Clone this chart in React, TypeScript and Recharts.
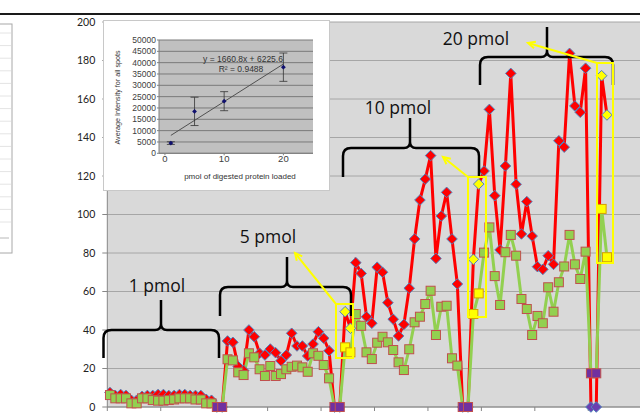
import React from 'react';
import { ComposedChart, Line, XAxis, YAxis, CartesianGrid, Scatter, ErrorBar } from 'recharts';

// ---- main chart data (one value per spot / category index) ----
const redSeries = [
  7.5, 6, 6.5, 6, 3.5, 3.5, 5.5, 6, 6, 6.5, 6.5, 6, 6, 6.5, 6.5, 6, 6, 6, 4, 3.5, 0, 0,
  34.3, 33.6, 21, 19, 40, 36.5, 27.9, 27, 30.1, 28.2, 24, 27, 38.3, 31.7, 31.7, 26.5, 32.7, 39.1, 35.7, 29.2, 0, 0,
  49.5, 40.9, 75, 69.4, 46.9, 43.5, 72.6, 70, 54.2, 45.6, 36.9, 42.9, 61.7, 87.3, 107.5, 118.4, 130.6, 77.2, 99.2, 111.5, 87.3, 63.9, 0, 0,
  76.7, 115.8, 122.6, 154.6, 109.8, 81.6, 125.2, 173.3, 115.7, 89.9, 106.7, 88.8, 72.9, 71.5, 78.6, 74.1, 138.3, 135, 183.7, 156.4, 153.1, 176, 0, 0,
  172.1, 151.7,
];
const greenSeries = [
  6.2, 4.5, 4.5, 4.5, 1.9, 1.9, 4.5, 4.5, 3.6, 3.3, 3.3, 3.6, 3.9, 4.5, 4.5, 4.5, 3.9, 3.9, 1.9, 1.9, 0, 0,
  24.8, 24.2, 18, 16.6, 27.9, 25.8, 19.6, 16.1, 21.3, 16.1, 17.1, 19.6, 20.9, 21.5, 20.6, 18.3, 27.9, 26.6, 21.8, 14.9, 0, 0,
  31, 28.4, 48.3, 42.2, 28.4, 24.9, 33.4, 36.5, 33.6, 29.6, 23.2, 19.2, 30, 44, 46.9, 53.5, 60.4, 37.4, 52.1, 52.6, 25.3, 21.5, 0, 0,
  48.3, 59, 80.2, 93.3, 68, 53, 80.4, 89.4, 78.6, 56.1, 50.9, 37.4, 47.3, 43.5, 62.2, 49.5, 64.8, 73, 89.4, 74.1, 66.5, 80.7, 17.5, 17.5,
  102.9, 77.8,
];
const categoryCount = 100;
const yellowPoints = [44, 45, 68, 69, 92, 93];
const missingPoints = [20, 21, 42, 43, 66, 67, 90, 91];
const yTicks = [0, 20, 40, 60, 80, 100, 120, 140, 160, 180, 200];
const xTickBounds = [-0.5, 9.5, 19.5, 29.5, 39.5, 49.5, 59.5, 69.5, 79.5, 89.5, 99.5];
const groupLabels = ['1 pmol', '5 pmol', '10 pmol', '20 pmol'];

// ---- inset data ----
const insetPmol = [1, 5, 10, 20];
const insetIntensity = [4500, 18500, 23000, 38000];
const insetError = [600, 6250, 4200, 6250];
const trendPmol = [1, 20];
const trendIntensity = [7900, 39400];
const insetYTicks = [0, 5000, 10000, 15000, 20000, 25000, 30000, 35000, 40000, 45000, 50000];
const insetXTicks = [0, 10, 20];

const mainData = Array.from({ length: categoryCount }, (_, i) => ({
  x: i,
  red: i < redSeries.length ? redSeries[i] : null,
  green: i < greenSeries.length ? greenSeries[i] : null,
}));
const insetPoints = insetPmol.map((x, i) => ({ x, y: insetIntensity[i], err: insetError[i] }));
const trendPoints = trendPmol.map((x, i) => ({ x, y: trendIntensity[i] }));

const RedDot = (props: any) => {
  const { cx, cy, index } = props;
  if (cx == null || cy == null || Number.isNaN(cy)) return <g key={`rd-${index}`} />;
  const fill = yellowPoints.includes(index) ? '#ffff00' : missingPoints.includes(index) ? '#6a3fb0' : '#ff0000';
  const h = 5.3;
  return (
    <polygon key={`rd-${index}`} points={`${cx},${cy - h} ${cx + h},${cy} ${cx},${cy + h} ${cx - h},${cy}`}
      fill={fill} stroke="#4f81bd" strokeWidth={1} />
  );
};

const GreenDot = (props: any) => {
  const { cx, cy, index } = props;
  if (cx == null || cy == null || Number.isNaN(cy)) return <g key={`gd-${index}`} />;
  const isY = yellowPoints.includes(index);
  const fill = isY ? '#ffff00' : missingPoints.includes(index) ? '#7030a0' : '#92d050';
  const s = 4.5;
  return (
    <rect key={`gd-${index}`} x={cx - s} y={cy - s} width={2 * s} height={2 * s}
      fill={fill} stroke={isY ? '#d4a000' : '#c0504d'} strokeWidth={1} />
  );
};

const InsetDiamond = (props: any) => {
  const { cx, cy } = props;
  const h = 2.4;
  return <polygon points={`${cx},${cy - h} ${cx + h},${cy} ${cx},${cy + h} ${cx - h},${cy}`} fill="#10106e" />;
};

const bracePath = (x1: number, x2: number, xc: number, yt: number, yb: number, ys: number) => {
  const r = 8;
  const r2 = 6;
  return `M ${x1} ${yb} L ${x1} ${yt + r} Q ${x1} ${yt} ${x1 + r} ${yt} L ${xc - r2} ${yt} Q ${xc} ${yt} ${xc} ${yt - r2} L ${xc} ${ys} ` +
    `M ${xc} ${yt - r2} Q ${xc} ${yt} ${xc + r2} ${yt} L ${x2 - r} ${yt} Q ${x2} ${yt} ${x2} ${yt + r} L ${x2} ${yb}`;
};

const Arrow = ({ x0, y0, x1, y1 }: { x0: number; y0: number; x1: number; y1: number }) => {
  const a = Math.atan2(y0 - y1, x0 - x1);
  const L = 8;
  const d1 = a + 0.45;
  const d2 = a - 0.45;
  return (
    <g stroke="#ffff00" strokeWidth={2} fill="none">
      <line x1={x0} y1={y0} x2={x1} y2={y1} />
      <polyline points={`${x1 + L * Math.cos(d1)},${y1 + L * Math.sin(d1)} ${x1},${y1} ${x1 + L * Math.cos(d2)},${y1 + L * Math.sin(d2)}`} />
    </g>
  );
};

const braces = [
  { label: groupLabels[0], x1: 103.5, x2: 219, xc: 161, yt: 330, yb: 358, ys: 300, tx: 157, ty: 292 },
  { label: groupLabels[1], x1: 220, x2: 351, xc: 287, yt: 287, yb: 316, ys: 257, tx: 268, ty: 243 },
  { label: groupLabels[2], x1: 343, x2: 479, xc: 410, yt: 148, yb: 177, ys: 118, tx: 398, ty: 114 },
  { label: groupLabels[3], x1: 480, x2: 613, xc: 547, yt: 57, yb: 85, ys: 27, tx: 476, ty: 45 },
];

export default function App() {
  return (
    <div style={{ position: 'absolute', left: 0, top: 0, width: 640, height: 418, overflow: 'hidden', background: '#fff' }}>
      <svg width={640} height={418} style={{ position: 'absolute', left: 0, top: 0 }}>
        <rect x={-1} y={24} width={13} height={229} fill="#fff" stroke="#a8a8a8" strokeWidth={1} />
        {Array.from({ length: 16 }, (_, k) => (
          <line key={k} x1={0} x2={11} y1={33 + k * 12.6} y2={33 + k * 12.6} stroke="#e4e4e4" strokeWidth={1} />
        ))}
        <line x1={0} x2={9} y1={238} y2={238} stroke="#b8b8b8" strokeWidth={1} />
      </svg>
      <div style={{ position: 'absolute', left: 0, top: 0 }}>
        <ComposedChart width={660} height={418} data={mainData} margin={{ top: 22, right: 18.3, bottom: 0, left: 0 }}>
          <CartesianGrid vertical={false} stroke="#a6a6a6" fill="#d9d9d9" />
          <XAxis type="number" dataKey="x" domain={[-0.5, 99.5]} ticks={xTickBounds} interval={0}
            tickFormatter={() => ''} tickSize={4} height={11} stroke="#868686" />
          <YAxis type="number" domain={[0, 200]} ticks={yTicks} interval={0} width={107.3} tickSize={5} tickMargin={7}
            stroke="#868686" tick={{ fontSize: 10.5, fill: '#222', fontFamily: 'Lato' }} />
          <Line type="linear" dataKey="red" stroke="#ff0000" strokeWidth={3} dot={RedDot} activeDot={false}
            isAnimationActive={false} />
          <Line type="linear" dataKey="green" stroke="#92d050" strokeWidth={3} dot={GreenDot} activeDot={false}
            isAnimationActive={false} />
        </ComposedChart>
      </div>
      <div style={{ position: 'absolute', left: 103, top: 20, width: 227, height: 171, background: '#fff' }}>
        <ComposedChart width={227} height={171} margin={{ top: 20, right: 17, bottom: 0, left: 0 }}>
          <CartesianGrid vertical={false} stroke="#7a7a7a" fill="#c0c0c0" />
          <XAxis type="number" dataKey="x" domain={[-1, 25]} ticks={insetXTicks} interval={0} tickSize={2} tickMargin={0}
            height={37.7} stroke="#808080" tick={{ fontSize: 9.5, fill: '#404040', fontFamily: 'Liberation Sans' }} />
          <YAxis type="number" dataKey="y" domain={[0, 50000]} ticks={insetYTicks} interval={0} width={56} tickSize={2}
            tickMargin={1} stroke="#808080" tick={{ fontSize: 8.5, fill: '#404040', fontFamily: 'Liberation Sans' }} />
          <Line data={trendPoints} type="linear" dataKey="y" stroke="#505050" strokeWidth={1} dot={false}
            activeDot={false} isAnimationActive={false} />
          <Scatter data={insetPoints} dataKey="y" shape={InsetDiamond} isAnimationActive={false}>
            <ErrorBar dataKey="err" direction="y" width={4} stroke="#333" strokeWidth={0.8} />
          </Scatter>
        </ComposedChart>
      </div>
      <svg width={640} height={418} style={{ position: 'absolute', left: 0, top: 0, pointerEvents: 'none' }}>
        <line x1={0} x2={640} y1={14} y2={14} stroke="#1a1a1a" strokeWidth={2} />
        <rect x={103.5} y={20.5} width={226} height={170} fill="none" stroke="#c8c8c8" strokeWidth={1} />
        <text x={243} y={62} textAnchor="middle" fontSize={8.5} fontFamily="Liberation Sans" fill="#333">y = 1660.8x + 6225.6</text>
        <text x={241} y={72} textAnchor="middle" fontSize={8.5} fontFamily="Liberation Sans" fill="#333">R² = 0.9488</text>
        <text x={240} y={178.5} textAnchor="middle" fontSize={8} fontFamily="Liberation Sans" fill="#333">pmol of digested protein loaded</text>
        <text x={118.5} y={97.5} transform="rotate(-90 118.5 97.5)" textAnchor="middle" dominantBaseline="middle"
          fontSize={7.2} fontFamily="Liberation Sans" fill="#333">Average  Intensity for all spots</text>
        {braces.map((b) => (
          <g key={b.label}>
            <path d={bracePath(b.x1, b.x2, b.xc, b.yt, b.yb, b.ys)} fill="none" stroke="#000" strokeWidth={2.5} />
            <text x={b.tx} y={b.ty} textAnchor="middle" fontSize={17.5} fontFamily="Open Sans" fill="#111">{b.label}</text>
          </g>
        ))}
        <g fill="none" stroke="#ffff00" strokeWidth={2}>
          <rect x={336} y={304} width={17} height={54} />
          <rect x={468} y={177} width={18} height={140} />
          <rect x={597} y={63} width={16} height={200} />
        </g>
        <Arrow x0={336} y0={304} x1={295} y1={253} />
        <Arrow x0={468} y0={177} x1={443} y1={157} />
        <Arrow x0={597} y0={63} x1={528} y1={43} />
      </svg>
    </div>
  );
}
